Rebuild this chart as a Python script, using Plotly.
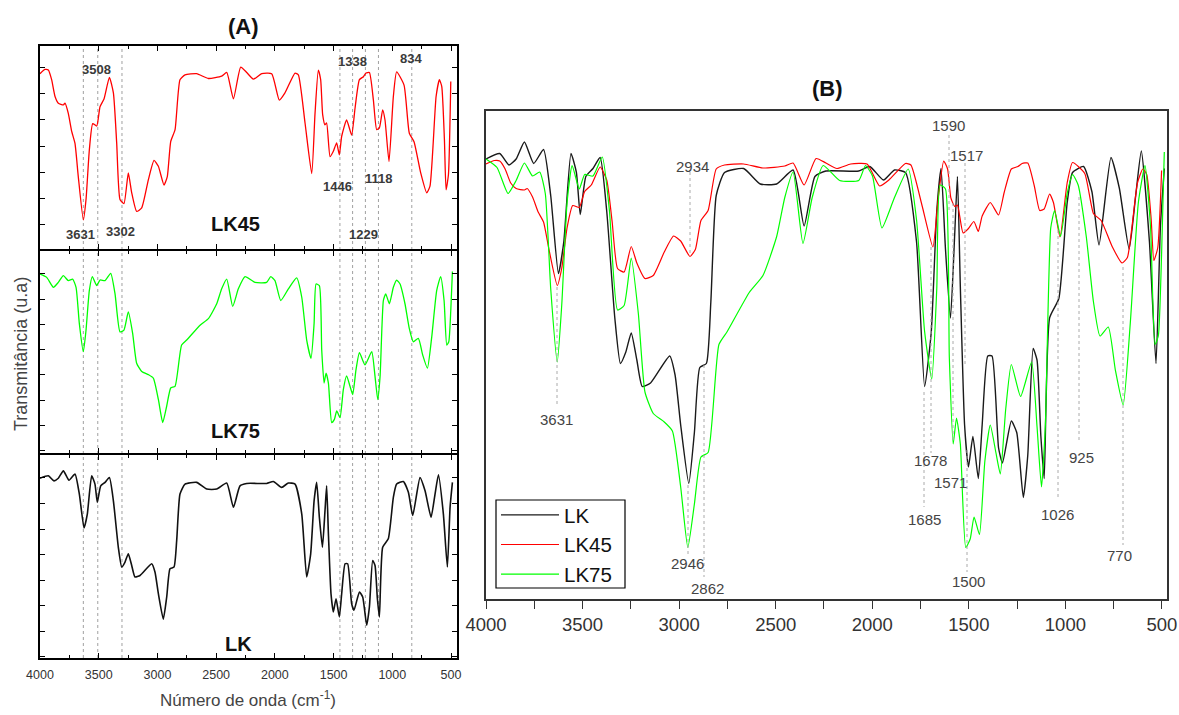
import plotly.graph_objects as go

# ---------------- data: FTIR spectra (wavenumber cm-1, transmittance a.u.) ----------------
lk45_wn = [4000, 3957, 3929, 3901, 3872, 3844, 3801, 3787, 3759, 3730, 3702, 3674, 3631, 3608, 3580,
           3551, 3517, 3489, 3455, 3409, 3375, 3347, 3319, 3285, 3248, 3219, 3177, 3134, 3077, 3029,
           2992, 2944, 2916, 2887, 2850, 2808, 2765, 2666, 2566, 2453, 2410, 2353, 2291, 2240, 2183,
           2112, 2027, 1962, 1914, 1828, 1800, 1743, 1686, 1658, 1630, 1610, 1593, 1573, 1559, 1530,
           1502, 1474, 1451, 1431, 1389, 1346, 1317, 1280, 1246, 1224, 1195, 1161, 1133, 1110, 1082,
           1062, 1028, 991, 963, 900, 855, 815, 758, 707, 679, 627, 599, 579, 556, 542, 522, 502]
lk45_t = [87.2, 87.9, 87.8, 86.2, 83.4, 82.3, 82.0, 82.3, 80.6, 77.6, 75.6, 70.1, 62.9, 66.3, 74.5,
          78.9, 78.5, 81.7, 83.0, 86.6, 84.0, 75.7, 66.3, 65.6, 70.7, 67.4, 64.3, 64.9, 69.6, 72.8,
          71.8, 68.7, 70.1, 75.9, 77.9, 86.2, 87.0, 87.2, 86.4, 86.8, 87.4, 83.0, 88.3, 87.4, 86.3,
          87.2, 87.2, 82.8, 84.0, 87.3, 87.0, 79.0, 70.6, 80.6, 87.8, 86.2, 80.4, 78.7, 79.0, 73.4,
          74.3, 75.7, 73.7, 76.8, 79.5, 77.0, 81.5, 86.2, 86.7, 87.3, 87.4, 82.8, 77.9, 78.2, 81.2,
          79.5, 72.6, 83.4, 87.5, 85.3, 77.3, 75.9, 70.7, 67.4, 68.5, 83.4, 86.2, 85.1, 76.2, 67.9, 70.4, 85.9]

lk75_wn = [4000, 3943, 3886, 3844, 3801, 3759, 3722, 3693, 3665, 3631, 3608, 3580, 3554, 3517, 3489,
           3446, 3398, 3361, 3319, 3285, 3248, 3211, 3177, 3134, 3077, 3035, 2992, 2955, 2921, 2887,
           2850, 2794, 2751, 2637, 2566, 2495, 2453, 2410, 2359, 2311, 2254, 2169, 2070, 2035, 1999,
           1950, 1885, 1814, 1771, 1729, 1692, 1666, 1649, 1621, 1601, 1581, 1564, 1544, 1516, 1493,
           1473, 1445, 1417, 1389, 1360, 1337, 1309, 1280, 1232, 1175, 1147, 1124, 1104, 1076, 1056,
           1025, 991, 963, 934, 892, 855, 821, 778, 741, 701, 664, 622, 588, 559, 536, 519, 502, 488]
lk75_t = [88.2, 86.5, 81.3, 83.9, 87.4, 84.8, 85.6, 81.3, 62.3, 47.6, 58.9, 79.6, 86.9, 82.2, 85.1,
          84.8, 88.6, 77.9, 58.0, 58.9, 68.4, 57.2, 41.6, 37.3, 35.6, 33.8, 22.6, 10.5, 19.2, 28.6,
          29.5, 51.1, 53.7, 61.5, 64.9, 72.7, 80.5, 85.6, 71.3, 80.5, 86.9, 83.9, 83.9, 86.9, 84.8,
          74.4, 80.5, 86.2, 76.1, 53.7, 44.2, 62.3, 83.0, 82.2, 48.5, 31.2, 36.4, 31.2, 10.5, 12.2,
          16.6, 13.1, 27.8, 35.0, 29.5, 25.2, 38.2, 47.1, 40.7, 47.6, 34.7, 22.6, 34.7, 74.4, 77.9,
          72.7, 81.3, 85.1, 83.0, 72.7, 59.7, 52.8, 54.6, 45.9, 39.0, 55.4, 79.6, 86.9, 74.4, 51.1, 52.8, 69.2, 89.6]

lk_wn = [4000, 3929, 3881, 3844, 3801, 3753, 3702, 3665, 3625, 3597, 3560, 3532, 3512, 3483, 3446,
         3409, 3375, 3333, 3304, 3276, 3248, 3219, 3191, 3148, 3049, 3021, 2992, 2950, 2921, 2893,
         2859, 2836, 2808, 2765, 2666, 2580, 2495, 2410, 2353, 2297, 2240, 2070, 2013, 1942, 1885,
         1828, 1771, 1729, 1695, 1666, 1644, 1621, 1595, 1573, 1559, 1544, 1522, 1502, 1479, 1451,
         1431, 1402, 1380, 1346, 1326, 1280, 1252, 1218, 1195, 1167, 1147, 1127, 1110, 1082, 1034,
         991, 963, 906, 863, 826, 764, 721, 670, 636, 607, 565, 531, 508, 488]
lk_t = [88.2, 89.3, 87.0, 88.2, 91.6, 87.3, 90.1, 80.9, 65.3, 71.7, 89.3, 85.5, 77.1, 84.7, 86.3,
        88.5, 77.8, 56.4, 47.3, 49.6, 53.4, 48.0, 42.7, 43.4, 48.8, 45.0, 35.0, 23.3, 33.5, 46.5,
        47.3, 59.5, 80.9, 85.5, 86.3, 83.2, 83.2, 86.0, 74.8, 84.7, 85.8, 85.8, 86.7, 84.0, 86.0,
        85.5, 71.7, 42.7, 53.4, 77.8, 86.3, 70.2, 56.4, 73.3, 84.7, 62.6, 35.0, 26.6, 32.7, 24.3,
        35.0, 48.8, 48.8, 30.4, 27.4, 35.8, 33.5, 20.5, 28.9, 50.3, 48.0, 32.7, 24.3, 56.4, 60.3,
        79.4, 85.5, 86.7, 81.7, 71.0, 88.5, 82.4, 70.2, 80.9, 89.8, 71.7, 47.3, 74.8, 86.3]

series_names = ["LK", "LK45", "LK75"]
x_tick_vals = [4000, 3500, 3000, 2500, 2000, 1500, 1000, 500]

# Panel A marked bands
a_peak_labels = ["3631", "3508", "3302", "1446", "1338", "1229", "1118", "834"]
# Panel B marked bands
b_peak_labels = ["2934", "3631", "2946", "2862", "1590", "1517", "1678", "1685",
                 "1571", "1500", "1026", "925", "770"]

# ---------------- layout helpers ----------------
W, H = 1179, 715
FONT = "Arial, 'Liberation Sans', sans-serif"


def px(x):
    return x / W


def py(y):
    return 1 - y / H


SMOOTH = 0.5
fig = go.Figure()

# Panel A traces
fig.add_trace(go.Scatter(x=lk45_wn, y=lk45_t, mode="lines",
                         line=dict(color="#ff0000", width=1.3, shape="spline", smoothing=SMOOTH),
                         xaxis="x", yaxis="y", showlegend=False, hoverinfo="skip"))
fig.add_trace(go.Scatter(x=lk75_wn, y=lk75_t, mode="lines",
                         line=dict(color="#00ff00", width=1.3, shape="spline", smoothing=SMOOTH),
                         xaxis="x2", yaxis="y2", showlegend=False, hoverinfo="skip"))
fig.add_trace(go.Scatter(x=lk_wn, y=lk_t, mode="lines",
                         line=dict(color="#111111", width=1.6, shape="spline", smoothing=SMOOTH),
                         xaxis="x3", yaxis="y3", showlegend=False, hoverinfo="skip"))

# Panel B traces
fig.add_trace(go.Scatter(x=lk_wn, y=lk_t, mode="lines", name=series_names[0],
                         line=dict(color="#1a1a1a", width=1.4, shape="spline", smoothing=SMOOTH),
                         xaxis="x4", yaxis="y4"))
fig.add_trace(go.Scatter(x=lk45_wn, y=lk45_t, mode="lines", name=series_names[1],
                         line=dict(color="#ff0000", width=1.2, shape="spline", smoothing=SMOOTH),
                         xaxis="x4", yaxis="y4"))
fig.add_trace(go.Scatter(x=lk75_wn, y=lk75_t, mode="lines", name=series_names[2],
                         line=dict(color="#00ff00", width=1.2, shape="spline", smoothing=SMOOTH),
                         xaxis="x4", yaxis="y4"))

a_x_common = dict(domain=[px(40), px(457)], range=[4000, 449], showline=True, linecolor="black",
                  linewidth=2, mirror="allticks", ticks="inside", ticklen=5, tickwidth=1.2,
                  tickcolor="black", tickvals=x_tick_vals, showgrid=False, zeroline=False,
                  automargin=False,
                  minor=dict(dtick=250, tick0=0, ticks="inside", ticklen=3, tickcolor="black",
                             showgrid=False))

a_y_common = dict(showline=True, linecolor="black", linewidth=2, mirror="allticks", ticks="inside",
                  ticklen=5, tickwidth=1.2, tickcolor="black", showticklabels=False,
                  showgrid=False, zeroline=False, automargin=False)

fig.update_layout(
    template="none",
    width=W, height=H, margin=dict(l=0, r=0, t=0, b=0, pad=0, autoexpand=False),
    paper_bgcolor="white", plot_bgcolor="rgba(0,0,0,0)",
    font=dict(family=FONT, color="#333"),
    xaxis=dict(**a_x_common, anchor="y", showticklabels=False),
    xaxis2=dict(**a_x_common, anchor="y2", showticklabels=False),
    xaxis3=dict(**a_x_common, anchor="y3", showticklabels=True,
                tickfont=dict(size=12.5, color="#333", family=FONT), ticklabelstandoff=4),
    yaxis=dict(**a_y_common, domain=[py(249), py(46)], range=[58.06, 91.8], anchor="x",
               tick0=88.16, dtick=4.328),
    yaxis2=dict(**a_y_common, domain=[py(453), py(251)], range=[-5.4, 100.3], anchor="x2",
                tick0=88.38, dtick=13.21),
    yaxis3=dict(**a_y_common, domain=[py(658), py(455)], range=[5.4, 98.9], anchor="x3",
                tick0=88.36, dtick=11.78),
    xaxis4=dict(domain=[px(486), px(1167)], range=[4000, 474], anchor="y4", showline=True,
                linecolor="#333", linewidth=1.5, mirror=True, ticks="outside", ticklen=8,
                tickwidth=1.2, tickcolor="#333", tickvals=x_tick_vals, automargin=False,
                minor=dict(dtick=250, tick0=0, ticks="outside", ticklen=8, tickcolor="#333",
                           showgrid=False),
                tickfont=dict(size=18.5, color="#333", family=FONT), showgrid=False, zeroline=False),
    yaxis4=dict(domain=[py(599), py(110.7)], range=[0.2, 97.86], anchor="x4", showline=True,
                linecolor="#333", linewidth=1.5, mirror=True, ticks="", showticklabels=False,
                showgrid=False, zeroline=False, automargin=False),
    showlegend=True,
    legend=dict(x=px(496), y=py(495), xanchor="left", yanchor="top", borderwidth=0,
                bgcolor="rgba(0,0,0,0)", font=dict(size=20.5, color="#111", family=FONT),
                itemwidth=58, tracegroupgap=0),
)

shapes = []
annotations = []

# Legend frame (white box behind the legend entries)
shapes.append(dict(type="rect", xref="paper", yref="paper", x0=px(496), x1=px(625),
                   y0=py(588), y1=py(500), fillcolor="white", line=dict(color="black", width=1.2),
                   layer="above"))

# Panel A dotted guide lines spanning the three stacked spectra
for lab in a_peak_labels:
    shapes.append(dict(type="line", xref="x3", yref="paper", x0=float(lab), x1=float(lab),
                       y0=py(658), y1=py(46), line=dict(color="#a0a0a0", width=1, dash="dot"),
                       layer="below"))

# Panel A band labels: (label, y pixel, xshift)
a_label_pos = {"3508": (69, -1), "3631": (235, -3), "3302": (232, -1), "1338": (62, 0),
               "834": (59, -1), "1446": (187, -2), "1118": (179, 1), "1229": (234, -2)}
for lab in a_peak_labels:
    yy, xs = a_label_pos[lab]
    annotations.append(dict(text="<b>%s</b>" % lab, x=float(lab), xref="x3", y=py(yy), yref="paper",
                            xshift=xs, showarrow=False, xanchor="center", yanchor="middle",
                            font=dict(size=13, color="#3a3a3a", family=FONT)))

# Panel A sample names
for name, (xx, yy) in zip(["LK45", "LK75", "LK"], [(235, 224), (235, 431), (238, 644)]):
    annotations.append(dict(text="<b>%s</b>" % name, x=px(xx), y=py(yy), xref="paper", yref="paper",
                            showarrow=False, xanchor="center", yanchor="middle",
                            font=dict(size=20, color="#111", family=FONT)))

# Panel B band markers: label centre (x, y) and guide line (x, y0, y1), all in pixels
b_label_xy = [(692, 166), (556, 419), (687, 563), (707, 588), (948, 126), (967, 155), (930, 461),
              (924, 519), (950, 483), (968, 581), (1057, 514), (1081, 457), (1119, 555)]
b_line_xyy = [(690, 172, 253), (557, 287, 405), (688, 485, 555), (704, 365, 577), (949, 135, 210),
              (965, 163, 365), (931, 247, 453), (924, 392, 507), (953, 203, 443), (967, 450, 572),
              (1058, 230, 500), (1079, 197, 442), (1123, 267, 545)]
for lab, (lx, ly), (gx, gy0, gy1) in zip(b_peak_labels, b_label_xy, b_line_xyy):
    shapes.append(dict(type="line", xref="paper", yref="paper", x0=px(gx), x1=px(gx),
                       y0=py(gy0), y1=py(gy1), line=dict(color="#aaaaaa", width=1, dash="dot"),
                       layer="above"))
    annotations.append(dict(text=lab, x=px(lx), y=py(ly), xref="paper", yref="paper",
                            showarrow=False, xanchor="center", yanchor="middle",
                            font=dict(size=15, color="#444", family=FONT)))

# Titles
annotations.append(dict(text="<b>(A)</b>", x=px(243), y=py(27), xref="paper", yref="paper",
                        showarrow=False, xanchor="center", yanchor="middle",
                        font=dict(size=22, color="#111", family=FONT)))
annotations.append(dict(text="<b>(B)</b>", x=px(828), y=py(88), xref="paper", yref="paper",
                        showarrow=False, xanchor="center", yanchor="middle",
                        font=dict(size=22, color="#111", family=FONT)))
annotations.append(dict(text="Transmitância (u.a)", x=px(21), y=py(354), xref="paper", yref="paper",
                        showarrow=False, textangle=-90, xanchor="center", yanchor="middle",
                        font=dict(size=18, color="#444", family=FONT)))
annotations.append(dict(text="Número de onda (cm<sup>-1</sup>)", x=px(248), y=py(699), xref="paper",
                        yref="paper", showarrow=False, xanchor="center", yanchor="middle",
                        font=dict(size=17, color="#444", family=FONT)))

fig.update_layout(shapes=shapes, annotations=annotations)

fig.write_html("out.html")
